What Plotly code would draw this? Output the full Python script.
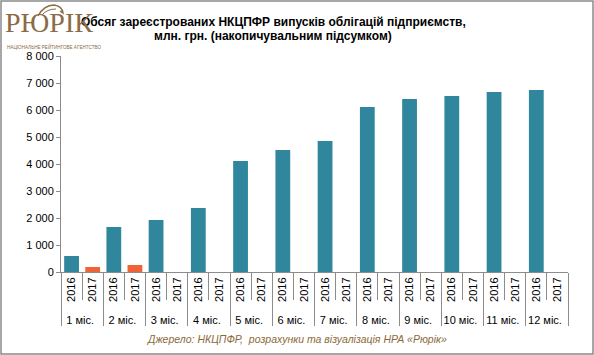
import plotly.graph_objects as go

months = ["1 міс.", "2 міс.", "3 міс.", "4 міс.", "5 міс.", "6 міс.",
          "7 міс.", "8 міс.", "9 міс.", "10 міс.", "11 міс.", "12 міс."]
years = ["2016", "2017"]
values_2016 = [593, 1667, 1926, 2370, 4111, 4519, 4852, 6111, 6407, 6519, 6667, 6741]
values_2017 = [185, 259, None, None, None, None, None, None, None, None, None, None]
y_tickvals = [0, 1000, 2000, 3000, 4000, 5000, 6000, 7000, 8000]
y_ticktext = ["0", "1 000", "2 000", "3 000", "4 000", "5 000", "6 000", "7 000", "8 000"]

color_2016 = "#30869C"
color_2017 = "#EF6339"
brown = "#8C6A46"

outer, inner, yv, colors = [], [], [], []
for i, m in enumerate(months):
    for yr, vals, c in ((years[0], values_2016, color_2016), (years[1], values_2017, color_2017)):
        outer.append(m)
        inner.append(yr)
        yv.append(vals[i])
        colors.append(c)

W, H = 594, 355
L, R, T, B = 61, 26, 56, 83
PW, PH = W - L - R, H - T - B


def px(x):
    return (x - L) / PW


def py(y):
    return (H - B - y) / PH


fig = go.Figure()
fig.add_trace(go.Bar(x=[outer, inner], y=yv, marker=dict(color=colors, line=dict(width=0)),
                     width=0.7, showlegend=False, hoverinfo="y"))

fig.update_layout(
    width=W, height=H,
    margin=dict(l=L, r=R, t=T, b=B),
    paper_bgcolor="white", plot_bgcolor="white",
    font=dict(family="Liberation Sans, Arial, sans-serif", size=11, color="#000000"),
    xaxis=dict(type="multicategory", showline=True, linecolor="#8C8C8C", linewidth=1,
               ticks="outside", ticklen=27, tickcolor="#8C8C8C", tickson="boundaries",
               showdividers=True, dividercolor="#8C8C8C", dividerwidth=1,
               tickangle=-90, tickfont=dict(size=11), showgrid=False, automargin=False),
    yaxis=dict(range=[0, 8000], tickvals=y_tickvals, ticktext=y_ticktext,
               showline=True, linecolor="#8C8C8C", linewidth=1,
               ticks="outside", ticklen=4, tickcolor="#8C8C8C", showgrid=False,
               zeroline=False, tickfont=dict(size=11), automargin=False),
)

# title (two lines)
fig.add_annotation(text="<b>Обсяг зареєстрованих НКЦПФР випусків облігацій підприємств,</b>",
                   xref="paper", yref="paper", x=px(273), y=py(22), xanchor="center", yanchor="middle",
                   showarrow=False, font=dict(size=12, color="#000000"))
fig.add_annotation(text="<b>млн. грн. (накопичувальним підсумком)</b>",
                   xref="paper", yref="paper", x=px(273), y=py(36), xanchor="center", yanchor="middle",
                   showarrow=False, font=dict(size=12, color="#000000"))

# border around whole image
fig.add_shape(type="rect", xref="paper", yref="paper", x0=px(1), x1=px(W - 1),
              y0=py(H - 1), y1=py(1), line=dict(color="#8A8A8A", width=1.5), layer="above")

# logo
fig.add_annotation(text="РЮРІК", xref="paper", yref="paper", x=px(3), y=py(40),
                   xanchor="left", yanchor="bottom", showarrow=False,
                   font=dict(family="Liberation Serif, DejaVu Serif, serif", size=28, color=brown))
fig.add_annotation(text="НАЦІОНАЛЬНЕ РЕЙТИНГОВЕ АГЕНТСТВО", xref="paper", yref="paper",
                   x=px(5), y=py(41), xanchor="left", yanchor="top", showarrow=False,
                   font=dict(family="Liberation Sans, Arial, sans-serif", size=4.6, color=brown))
# eagle head sketch
eagle = "M {} {} Q {} {} {} {} Q {} {} {} {} L {} {}".format(
    px(38), py(16), px(44), py(5), px(54), py(5),
    px(62), py(6), px(63), py(13), px(60), py(11))
fig.add_shape(type="path", xref="paper", yref="paper", path=eagle,
              line=dict(color=brown, width=1.5))
eagle2 = "M {} {} Q {} {} {} {}".format(px(42), py(15), px(47), py(9), px(56), py(9))
fig.add_shape(type="path", xref="paper", yref="paper", path=eagle2,
              line=dict(color=brown, width=1))

# source
fig.add_annotation(text="<i>Джерело: НКЦПФР,  розрахунки та візуалізація НРА «Рюрік»</i>",
                   xref="paper", yref="paper", x=px(297), y=py(339),
                   xanchor="center", yanchor="middle", showarrow=False,
                   font=dict(family="Liberation Sans, Arial, sans-serif", size=10.5, color="#8B6A3A"))

fig.write_html("out.html", config={"displayModeBar": False},
               post_script="document.body.style.margin='0';document.body.style.overflow='hidden';")
